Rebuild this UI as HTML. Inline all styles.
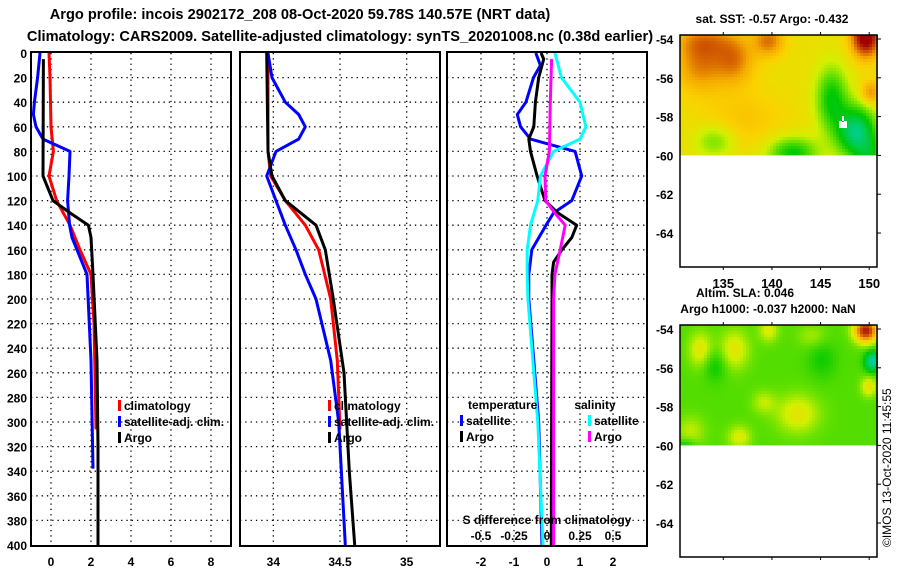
<!DOCTYPE html>
<html><head><meta charset="utf-8"><style>
html,body{margin:0;padding:0;background:#fff;}
svg{display:block;font-family:"Liberation Sans",Arial,sans-serif;font-weight:bold;}
</style></head><body>
<svg id="chart" width="900" height="580" viewBox="0 0 900 580" xmlns="http://www.w3.org/2000/svg">
<text x="300" y="19" font-size="14.6" text-anchor="middle">Argo profile: incois 2902172_208 08-Oct-2020 59.78S 140.57E (NRT data)</text>
<text x="340" y="41" font-size="14.6" text-anchor="middle">Climatology: CARS2009. Satellite-adjusted climatology: synTS_20201008.nc (0.38d earlier)</text>
<text x="772" y="23" font-size="12" text-anchor="middle">sat. SST: -0.57 Argo: -0.432</text>
<text x="745" y="297" font-size="12" text-anchor="middle">Altim. SLA: 0.046</text>
<text x="768" y="313" font-size="12" text-anchor="middle">Argo h1000: -0.037 h2000: NaN</text>
<text transform="translate(891,547) rotate(-90)" font-size="12" font-weight="normal">©IMOS 13-Oct-2020 11:45:55</text>
<g id="g"></g>
</svg>
<script>
// ---- data ----
const depthTicks = [0,20,40,60,80,100,120,140,160,180,200,220,240,260,280,300,320,340,360,380,400];
const tempTicks = [0,2,4,6,8];
const salTicks = [34,34.5,35];
const diffTicks = [-2,-1,0,1,2];
const sdiffTickLabels = ['-0.5','-0.25','0','0.25','0.5'];
const sdiffTickValues = [-0.5,-0.25,0,0.25,0.5];

const climTDepth = [0,20,60,80,100,120,140,160,180,220,260,306];
const climT =      [-0.1,-0.05,0.0,0.12,-0.1,0.28,0.95,1.45,2.0,2.15,2.2,2.25];
const argoTDepth = [5,100,120,130,140,150,180,250,320,400];
const argoT =      [-0.38,-0.4,0.1,0.95,1.87,2.0,2.1,2.3,2.35,2.35];
const satTDepth = [0,20,40,50,60,70,80,100,120,140,150,180,250,338];
const satT =      [-0.55,-0.67,-0.83,-0.88,-0.75,-0.4,0.95,0.9,0.83,0.93,1.05,1.8,2.0,2.1];

const climSDepth = [0,80,100,120,140,160,200,250,306];
const climS =      [33.96,33.96,33.98,34.09,34.24,34.34,34.43,34.48,34.5];
const argoSDepth = [0,80,100,120,140,160,200,260,340,400];
const argoS =      [33.95,33.96,33.99,34.09,34.32,34.39,34.45,34.53,34.57,34.61];
const satSDepth = [0,20,40,50,60,70,80,100,120,140,160,180,200,250,300,400];
const satS =      [33.96,33.99,34.09,34.19,34.24,34.19,34.02,33.95,34.02,34.09,34.17,34.24,34.32,34.43,34.49,34.54];

const dTDepthSat = [0,10,20,40,50,60,70,75,80,100,120,130,140,160,180,200,250,300,400];
const dTSat =      [-0.34,-0.2,-0.41,-0.64,-0.9,-0.8,-0.5,0.18,0.85,1.05,0.75,0.2,-0.03,-0.46,-0.55,-0.55,-0.4,-0.25,-0.15];
const dTDepthArgo = [0,5,20,40,60,70,80,100,120,130,140,150,160,170,180,200,300,400];
const dTArgo =      [-0.18,-0.1,-0.25,-0.35,-0.4,-0.55,-0.5,-0.3,-0.06,0.33,0.9,0.75,0.45,0.2,0.15,0.15,0.14,0.13];
const dSDepthSat = [0,20,40,60,70,80,90,100,120,140,160,180,200,300,400];
const dSSat =      [0.06,0.11,0.25,0.295,0.25,0.05,0.0,-0.05,-0.07,-0.125,-0.15,-0.15,-0.145,-0.07,-0.03];
const dSDepthArgo = [5,40,80,100,120,130,140,160,180,200,400];
const dSArgo =      [0.035,0.025,0.018,-0.015,-0.01,0.058,0.138,0.1,0.06,0.05,0.05];

// ---- layout ----
const NS='http://www.w3.org/2000/svg';
const G=document.getElementById('g');
function el(tag,attrs,parent){const e=document.createElementNS(NS,tag);for(const k in attrs)e.setAttribute(k,attrs[k]);(parent||G).appendChild(e);return e;}
const Y0=53, Y1=545;
const yD = d => Y0 + (Y1-Y0)*d/400;
const panels = [
 {x0:31,x1:231,min:-1,max:9,name:'temperature-panel'},
 {x0:240,x1:440,min:33.75,max:35.25,name:'salinity-panel'},
 {x0:447,x1:647,min:-3.03,max:3.03,name:'difference-panel'}
];
panels.forEach(p=>{p.sx=v=>p.x0+(v-p.min)/(p.max-p.min)*(p.x1-p.x0);});
const [P1,P2,P3]=panels;
const sxS = v => P3.sx(v*4);

function grid(p,ticks){
  const gg=el('g',{});
  
  
  depthTicks.forEach(d=>{ if(d>0&&d<400) el('line',{x1:p.x0,x2:p.x1,y1:yD(d),y2:yD(d),stroke:'#000','stroke-width':1.3,'stroke-dasharray':'1.3 4'},gg);});
  ticks.forEach(t=>{el('line',{x1:p.sx(t),x2:p.sx(t),y1:Y0,y2:Y1,stroke:'#000','stroke-width':1.3,'stroke-dasharray':'1.3 4'},gg);});
}
grid(P1,tempTicks);grid(P2,salTicks);grid(P3,diffTicks);

function line(p,sx,depths,vals,color,name){
  const pts=depths.map((d,i)=>sx(vals[i]).toFixed(1)+','+yD(d).toFixed(1)).join(' ');
  const e=el('polyline',{points:pts,fill:'none',stroke:color,'stroke-width':3,'stroke-linejoin':'round'});
  
  
}
line(P1,P1.sx,climTDepth,climT,'#f00','temp-climatology-line');
line(P1,P1.sx,satTDepth,satT,'#00f','temp-satellite-line');
line(P1,P1.sx,argoTDepth,argoT,'#000','temp-argo-line');
line(P2,P2.sx,climSDepth,climS,'#f00','sal-climatology-line');
line(P2,P2.sx,satSDepth,satS,'#00f','sal-satellite-line');
line(P2,P2.sx,argoSDepth,argoS,'#000','sal-argo-line');
line(P3,P3.sx,dTDepthSat,dTSat,'#00f','dtemp-satellite-line');
line(P3,P3.sx,dTDepthArgo,dTArgo,'#000','dtemp-argo-line');
line(P3,sxS,dSDepthSat,dSSat,'#0ff','dsal-satellite-line');
line(P3,sxS,dSDepthArgo,dSArgo,'#f0f','dsal-argo-line');

panels.forEach(p=>{const r=el('rect',{x:p.x0,y:Y0-1,width:p.x1-p.x0,height:Y1-Y0+2,fill:'none',stroke:'#000','stroke-width':2});
 });

// tick labels
depthTicks.forEach(d=>{const t=el('text',{x:27,y:yD(d)+5,'font-size':12,'text-anchor':'end'});t.textContent=d;
 });
tempTicks.forEach(v=>{const t=el('text',{x:P1.sx(v),y:566,'font-size':12,'text-anchor':'middle'});t.textContent=v;
 });
salTicks.forEach(v=>{const t=el('text',{x:P2.sx(v),y:566,'font-size':12,'text-anchor':'middle'});t.textContent=v;
 });
diffTicks.forEach(v=>{const t=el('text',{x:P3.sx(v),y:566,'font-size':12,'text-anchor':'middle'});t.textContent=v;
 });

function legend(x,y,color,label,name){
  el('rect',{x:x,y:y-10,width:3,height:11,fill:color});
  const t=el('text',{x:x+6,y:y,'font-size':12});t.textContent=label;
  
}
legend(118,410,'#f00','climatology','legend-climatology');
legend(118,426,'#00f','satellite-adj. clim.','legend-satellite-adj');
legend(118,442,'#000','Argo','legend-argo');
legend(328,410,'#f00','climatology','legend2-climatology');
legend(328,426,'#00f','satellite-adj. clim.','legend2-satellite-adj');
legend(328,442,'#000','Argo','legend2-argo');
{const t=el('text',{x:468,y:409,'font-size':12});t.textContent='temperature';}
{const t=el('text',{x:595,y:409,'font-size':12,'text-anchor':'middle'});t.textContent='salinity';}
legend(460,425,'#00f','satellite','legend-dtemp-satellite');
legend(460,441,'#000','Argo','legend-dtemp-argo');
legend(588,425,'#0ff','satellite','legend-dsal-satellite');
legend(588,441,'#f0f','Argo','legend-dsal-argo');
{const t=el('text',{x:547,y:524,'font-size':12,'text-anchor':'middle'});t.textContent='S difference from climatology';}
sdiffTickValues.forEach((v,i)=>{const t=el('text',{x:sxS(v),y:540,'font-size':12,'text-anchor':'middle'});t.textContent=sdiffTickLabels[i];
 });

// ---- maps ----
const mapLon0=130.55, mapLon1=150.8;
const mapX=lon=>680+(lon-mapLon0)/(mapLon1-mapLon0)*197;
// [lon, lat, amplitude, lat-sigma, lon-sigma]
const sstBlobs=[[132.5,-55.2,0.2,1.4,2.5],[136,-55,0.2,1.2,2],[139.5,-54,0.22,0.8,1.5],[133,-54,0.15,0.8,3],[149.5,-53.8,0.5,1,1.4],[142,-59.8,-0.28,0.8,2.5],[146,-57,-0.28,1.6,1.6],[148.5,-58.7,-0.45,1.3,2],[150,-60,-0.2,1,1.5],[134,-59.2,-0.15,0.8,2],[150,-56.7,0.18,0.6,1],[137,-58,0.07,1.5,4]];
const slaBlobs=[[132.5,-55,0.16,0.9,1.2],[136,-55,0.16,1,1.5],[139.5,-54,0.14,0.6,1],[142.5,-58.3,0.16,1,2.2],[139,-57.7,0.1,0.6,1.2],[149.5,-54,0.55,0.6,1.2],[150.2,-55.6,-0.35,0.5,0.8],[149.8,-56.9,0.18,0.5,0.8],[134,-55.8,-0.1,0.8,1.2],[136.5,-59.5,0.14,0.6,1.2],[145,-55.5,-0.08,1,1.5],[131.5,-59.2,0.1,0.8,1.5],[144,-54.3,0.08,0.6,1.5],[131,-60,-0.12,0.4,1]];
const cmap=[[0,[0,210,210]],[0.3,[0,200,0]],[0.42,[100,225,0]],[0.52,[210,240,0]],[0.62,[250,210,0]],[0.72,[245,170,0]],[0.82,[215,100,0]],[1,[160,0,0]]];
function col(v){v=Math.max(0,Math.min(1,v));for(let i=1;i<cmap.length;i++){if(v<=cmap[i][0]){const a=cmap[i-1],b=cmap[i];const f=(v-a[0])/(b[0]-a[0]);return 'rgb('+a[1].map((c,k)=>Math.round(c+(b[1][k]-c)*f)).join(',')+')';}}return 'rgb(160,0,0)';}
function drawMap(top,pxPerDeg,base,blobs,name){
  const mg=el('g',{});
  
  
  const yL=lat=>top+4+(-54-lat)*pxPerDeg;
  const cs=3;
  for(let y=top;y<yL(-60);y+=cs){for(let x=680;x<877;x+=cs){
    const lon=mapLon0+(x-680)/197*(mapLon1-mapLon0), lat=-54-(y-top-4)/pxPerDeg;
    let v=base;blobs.forEach(b=>{const d2=((lat-b[1])/b[3])**2+((lon-b[0])/b[4])**2;v+=b[2]*Math.exp(-d2);});
    el('rect',{x:x,y:y,width:cs,height:Math.min(cs,yL(-60)-y),fill:col(v)},mg);}}
  el('rect',{x:680,y:top,width:197,height:232,fill:'none',stroke:'#000','stroke-width':1.5},mg);
  [-54,-56,-58,-60,-62,-64].forEach(l=>{const t=el('text',{x:656,y:yL(l)+5,'font-size':12},mg);t.textContent=l;
    el('line',{x1:877,x2:881,y1:yL(l),y2:yL(l),stroke:'#000'},mg);});
  [135,140,145,150].forEach(l=>{el('line',{x1:mapX(l),x2:mapX(l),y1:top,y2:top-3,stroke:'#000'},mg);el('line',{x1:mapX(l),x2:mapX(l),y1:top+232,y2:top+235,stroke:'#000'},mg);});
  return mg;
}
const m1=drawMap(35,19.4,0.58,sstBlobs,'sst-map');
[135,140,145,150].forEach(l=>{const t=el('text',{x:mapX(l),y:288,'font-size':13,'text-anchor':'middle'},m1);t.textContent=l;});
el('path',{d:'M842 116 v6 h2 v-6 z M839 121 h8 v7 h-8 z',fill:'#fff'},m1);
drawMap(325,19.4,0.4,slaBlobs,'sla-map');
</script>
</body></html>
